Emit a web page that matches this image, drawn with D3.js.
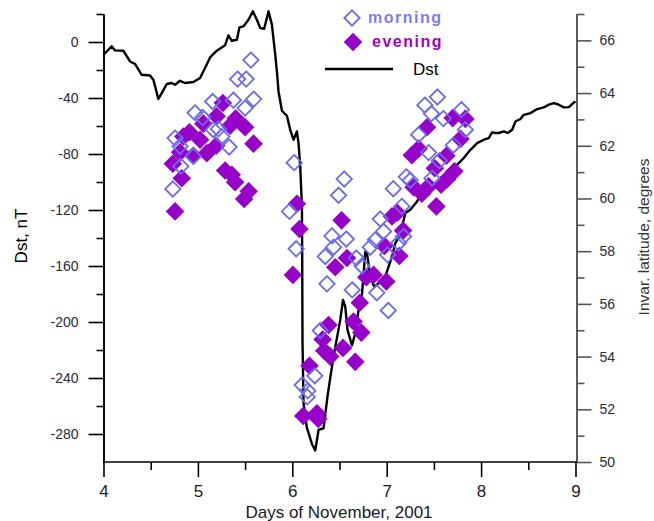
<!DOCTYPE html>
<html><head><meta charset="utf-8">
<script src="https://cdn.jsdelivr.net/npm/d3@7"></script>
<style>
body{margin:0;background:#fff}
svg{display:block}
text{font-family:"Liberation Sans",Arial,sans-serif}
</style>
</head><body><svg id="c" width="654" height="521"></svg>
<script>
// Dst index (nT) vs day of November 2001
const dstDay = [4.000,4.087,4.122,4.210,4.281,4.334,4.405,4.493,4.528,4.581,4.617,4.670,4.723,4.758,4.811,4.864,4.952,5.023,5.076,5.129,5.200,5.288,5.323,5.359,5.413,5.440,5.483,5.536,5.582,5.625,5.660,5.702,5.748,5.784,5.819,5.837,5.854,5.890,5.943,5.978,6.013,6.049,6.066,6.084,6.102,6.105,6.108,6.119,6.155,6.208,6.243,6.278,6.331,6.375,6.434,6.508,6.537,6.561,6.585,6.632,6.667,6.702,6.738,6.773,6.791,6.826,6.868,6.914,6.985,7.020,7.056,7.091,7.144,7.197,7.250,7.321,7.374,7.497,7.550,7.639,7.745,7.816,7.887,7.958,8.028,8.081,8.117,8.152,8.187,8.240,8.282,8.329,8.364,8.417,8.452,8.523,8.594,8.664,8.717,8.770,8.823,8.876,8.929,8.976,9.000];
const dstVal = [-9.1,-3.1,-6.0,-6.2,-13.9,-15.7,-23.4,-23.9,-26.9,-40.7,-36.5,-30.0,-29.3,-30.5,-27.7,-29.3,-28.6,-25.7,-18.6,-11.0,-6.2,-2.4,4.7,0.9,1.6,10.4,11.2,15.9,21.9,15.9,10.0,9.5,21.9,12.4,-9.1,-21.0,-35.3,-49.1,-52.7,-62.7,-69.8,-63.9,-72.2,-88.9,-117.5,-155.6,-212.8,-258.0,-275.7,-287.1,-291.8,-277.1,-275.9,-252.1,-225.7,-198.5,-184.2,-189.0,-205.6,-216.7,-208.0,-191.4,-180.6,-149.7,-150.8,-167.6,-174.9,-172.3,-167.6,-160.4,-153.3,-143.7,-137.7,-122.2,-119.9,-113.9,-107.9,-103.2,-98.4,-94.9,-87.7,-82.9,-77.0,-72.2,-69.8,-68.6,-64.5,-65.0,-65.0,-63.9,-65.0,-62.7,-56.8,-55.0,-52.0,-50.8,-47.9,-46.7,-44.8,-43.6,-44.8,-46.7,-46.5,-43.6,-42.5];

// Invariant latitude (degrees) of observations
const morningDay = [5.561,5.421,5.511,5.591,5.376,5.156,5.500,4.970,5.052,5.217,5.164,4.758,5.331,5.253,4.819,4.734,4.952,4.811,
  6.020,6.550,6.490,5.970,7.070,6.932,6.420,6.572,6.967,6.879,6.826,6.437,6.349,6.041,6.678,7.010,6.738,6.367,6.635,6.895,7.017,7.126,6.296,6.238,6.105,6.163,6.158,
  7.537,7.404,7.473,7.600,7.791,7.833,7.338,7.444,7.706,7.558,7.208,7.250,7.480,7.160,7.179];
const morningLat = [65.25,64.53,64.53,63.77,63.73,63.68,63.43,63.25,63.07,62.64,62.61,62.29,61.95,62.35,61.22,60.36,61.60,61.98,
  61.36,60.74,60.12,59.51,60.37,59.22,58.58,58.46,58.75,58.43,58.15,58.15,57.80,58.09,57.74,57.86,57.44,56.76,56.53,56.42,55.75,58.31,54.99,53.27,52.92,52.70,52.47,
  63.85,63.54,63.22,63.03,63.37,62.61,62.42,61.74,62.02,61.43,60.82,60.69,60.77,59.70,58.56];

const eveningDay = [5.264,5.198,5.400,5.500,5.341,5.058,4.910,4.846,5.023,5.589,5.193,5.094,4.811,4.952,4.734,4.829,5.288,5.359,5.394,5.538,5.490,4.758,
  6.049,6.076,6.006,6.522,7.056,6.975,6.579,6.455,6.784,6.861,6.996,7.134,6.715,6.384,6.649,6.731,6.322,6.338,6.402,6.537,6.667,6.182,6.116,6.261,6.275,
  7.427,7.699,7.833,7.781,7.632,7.266,7.338,7.510,7.717,7.639,7.576,7.285,7.444,7.372,7.526,7.112,7.173];
const eveningLat = [63.62,63.12,63.03,62.70,62.76,62.84,62.51,62.35,62.23,62.08,62.00,61.72,61.75,61.62,61.32,60.77,61.06,60.90,60.62,60.27,59.98,59.51,
  59.80,58.84,57.10,59.17,59.32,58.20,57.74,57.39,57.01,57.10,56.85,57.82,56.04,55.20,55.33,54.91,54.65,54.22,54.00,54.33,53.80,53.65,51.75,51.85,51.63,
  62.70,63.05,63.02,62.26,61.62,61.64,61.89,61.15,61.03,60.73,60.52,60.43,60.46,60.18,59.70,59.46,58.78];

const xTicks = [4,5,6,7,8,9];
const xMinor = [4.5,5.5,6.5,7.5,8.5];
const dstTicks = [-280,-240,-200,-160,-120,-80,-40,0];
const dstMinor = [-260,-220,-180,-140,-100,-60,-20,20];
const latTicks = [50,52,54,56,58,60,62,64,66];
const latMinor = [51,53,55,57,59,61,63,65,67];

const svg = d3.select("#c");
const x = d3.scaleLinear().domain([4,9]).range([103.5,575.5]);
const yDst = d3.scaleLinear().domain([-300,20]).range([462,14]);
const yLat = d3.scaleLinear().domain([50,67]).range([462,14]);

const morningColor = "#6a6af2";
const eveningColor = "#9600c8";
const plain = d => String(d);

function styleAxis(g, col, fs, tcol){
  g.selectAll("path").attr("stroke", col).attr("stroke-width",1.6);
  g.selectAll("line").attr("stroke", col).attr("stroke-width",1.6);
  g.selectAll("text").attr("fill", tcol).style("font-size", fs+"px").style("font-family",'"Liberation Sans",Arial,sans-serif');
}

// left axis
const gl = svg.append("g").attr("transform","translate(103.5,0)");
gl.call(d3.axisLeft(yDst).tickValues(dstTicks).tickSize(15).tickSizeOuter(0).tickPadding(10).tickFormat(plain));
styleAxis(gl,"#000",14,"#2a2a3a");
const glm = svg.append("g").attr("transform","translate(103.5,0)");
glm.call(d3.axisLeft(yDst).tickValues(dstMinor).tickSize(7).tickSizeOuter(0).tickFormat(""));
styleAxis(glm,"#000",14,"#000");

// right axis
const gr = svg.append("g").attr("transform","translate(576.5,0)");
gr.call(d3.axisRight(yLat).tickValues(latTicks).tickSize(15).tickSizeOuter(0).tickPadding(8).tickFormat(plain));
styleAxis(gr,"#555",14,"#2a2a3a");
const grm = svg.append("g").attr("transform","translate(576.5,0)");
grm.call(d3.axisRight(yLat).tickValues(latMinor).tickSize(8).tickSizeOuter(0).tickFormat(""));
styleAxis(grm,"#555",14,"#000");

// bottom axis
const gb = svg.append("g").attr("transform","translate(0,462)");
gb.call(d3.axisBottom(x).tickValues(xTicks).tickSize(15).tickSizeOuter(0).tickPadding(8).tickFormat(plain));
styleAxis(gb,"#000",17,"#1a1a2a");
gb.select("path").attr("d","M103.5,0H577");
const gbm = svg.append("g").attr("transform","translate(0,462)");
gbm.call(d3.axisBottom(x).tickValues(xMinor).tickSize(8).tickSizeOuter(0).tickFormat(""));
styleAxis(gbm,"#000",17,"#000");
gbm.select("path").remove();

// axis titles
svg.append("text").attr("transform","translate(27,236) rotate(-90)").attr("text-anchor","middle")
  .style("font-size","17px").attr("fill","#000").text("Dst, nT");
svg.append("text").attr("transform","translate(649,237) rotate(-90)").attr("text-anchor","middle")
  .style("font-size","15.5px").attr("fill","#333").text("Invar. latitude, degrees");
svg.append("text").attr("x",339).attr("y",518).attr("text-anchor","middle")
  .style("font-size","17px").attr("fill","#1a1a2a").text("Days of November, 2001");

// Dst line
const dstData = dstDay.map((d,i)=>[d,dstVal[i]]);
svg.append("path").datum(dstData)
  .attr("d", d3.line().x(d=>x(d[0])).y(d=>yDst(d[1])))
  .attr("fill","none").attr("stroke","#000").attr("stroke-width",2.4).attr("stroke-linejoin","round");

const diamond = d3.symbol().type(d3.symbolDiamond2).size(220);
const diamondOpen = d3.symbol().type(d3.symbolDiamond2).size(150);

// evening (filled)
svg.append("g").selectAll("path").data(eveningDay.map((d,i)=>[d,eveningLat[i]])).join("path")
  .attr("transform",d=>`translate(${x(d[0])},${yLat(d[1])})`)
  .attr("d",diamond).attr("fill",eveningColor);

// morning (open)
svg.append("g").selectAll("path").data(morningDay.map((d,i)=>[d,morningLat[i]])).join("path")
  .attr("transform",d=>`translate(${x(d[0])},${yLat(d[1])})`)
  .attr("d",diamondOpen).attr("fill","none").attr("stroke",morningColor).attr("stroke-width",1.8);

// legend
const lg = svg.append("g");
lg.append("path").attr("transform","translate(352,18)").attr("d",diamondOpen).attr("fill","none").attr("stroke",morningColor).attr("stroke-width",1.8);
lg.append("text").attr("x",368).attr("y",23).style("font-size","16px").style("font-weight","bold").style("letter-spacing","1.5px").attr("fill","#7b7bf5").text("morning");
lg.append("path").attr("transform","translate(353,42)").attr("d",diamond).attr("fill",eveningColor);
lg.append("text").attr("x",372).attr("y",47).style("font-size","16px").style("font-weight","bold").style("letter-spacing","1.5px").attr("fill","#a000c8").text("evening");
lg.append("line").attr("x1",325).attr("x2",393).attr("y1",69).attr("y2",69).attr("stroke","#000").attr("stroke-width",2.4);
lg.append("text").attr("x",413).attr("y",75).style("font-size","17px").attr("fill","#000").text("Dst");
</script>
</body></html>
